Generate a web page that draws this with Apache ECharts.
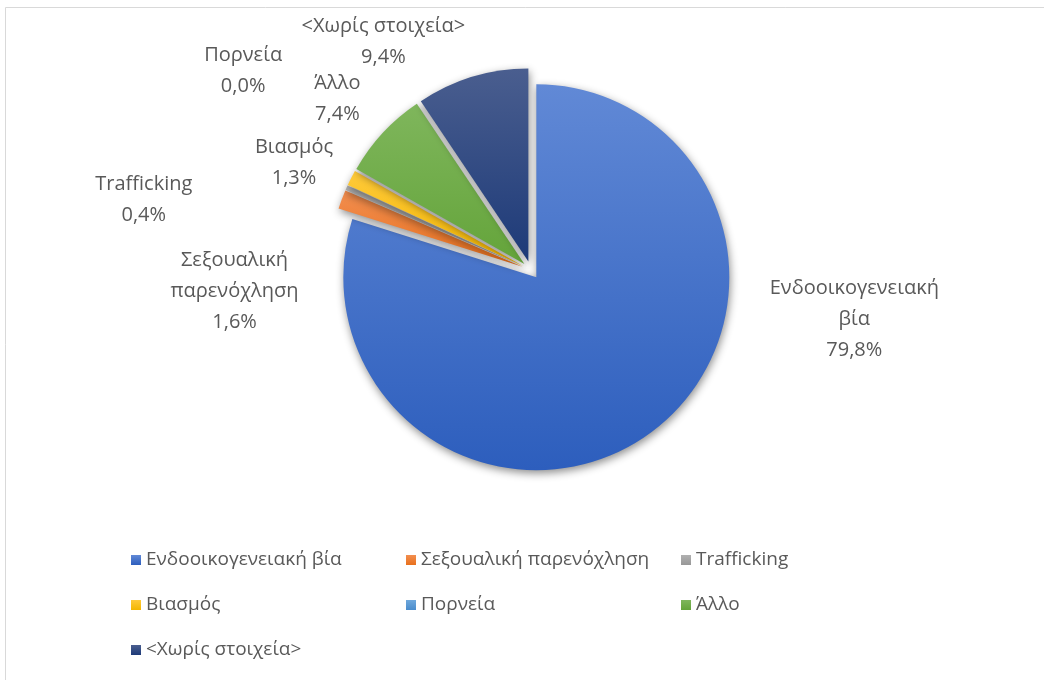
<!DOCTYPE html>
<html>
<head>
<meta charset="utf-8">
<script src="https://cdn.jsdelivr.net/npm/echarts@6/dist/echarts.min.js"></script>
<style>html,body{margin:0;padding:0;background:#fff}#c{width:1044px;height:680px}</style>
</head>
<body>
<div id="c"></div>
<script>
// ---- data ----
const categories = ['Ενδοοικογενειακή βία','Σεξουαλική παρενόχληση','Trafficking','Βιασμός','Πορνεία','Άλλο','<Χωρίς στοιχεία>'];
const labelNames = ['Ενδοοικογενειακή\nβία','Σεξουαλική\nπαρενόχληση','Trafficking','Βιασμός','Πορνεία','Άλλο','<Χωρίς στοιχεία>'];
const values = [79.8, 1.6, 0.4, 1.3, 0.0, 7.4, 9.4];

// ---- style ----
const grads = [
  ['#6189d6','#2d5ebd'],
  ['#f28e50','#e8701c'],
  ['#b0b0b0','#979797'],
  ['#ffca3a','#f3b600'],
  ['#6fa8dc','#4a8ccc'],
  ['#7fb65c','#64a43a'],
  ['#4a5e8f','#1d3a78']
];
const labelAnchors = [[849,312],[243,294],[152,203],[302,167],[251,75],[344,105],[386,50]];
const pieCenter = [531,270];

const chart = echarts.init(document.getElementById('c'));
const data = categories.map((n,i)=>({
  name:n, value:values[i], selected:true,
  itemStyle:{color:new echarts.graphic.LinearGradient(0,0,0,1,[{offset:0,color:grads[i][0]},{offset:1,color:grads[i][1]}])}
}));
chart.setOption({
  animation:false,
  graphic:[{type:'rect',shape:{x:5.5,y:7.5,width:1100,height:720},style:{fill:'none',stroke:'#d9d9d9',lineWidth:1},silent:true}],
  legend:{
    left:126, top:535, width:840, itemWidth:10, itemHeight:10, itemGap:5, icon:'rect',
    textStyle:{color:'#595959', fontSize:19, fontFamily:'Open Sans', width:255, lineHeight:40},
    selectedMode:false,
    data:categories
  },
  series:[{
    type:'pie',
    center:pieCenter,
    radius:193,
    startAngle:90,
    clockwise:true,
    avoidLabelOverlap:false,
    selectedMode:'multiple',
    selectedOffset:9,
    emphasis:{disabled:true},
    itemStyle:{shadowBlur:8, shadowColor:'rgba(0,0,0,0.45)', shadowOffsetY:3, shadowOffsetX:1},
    label:{
      show:true, position:'outside', color:'#595959', fontSize:20, fontFamily:'Open Sans', lineHeight:31,
      formatter:p=>labelNames[p.dataIndex]+'\n'+p.value.toFixed(1).replace('.',',')+'%'
    },
    labelLine:{show:false},
    labelLayout:p=>{
      const r=p.labelRect, a=labelAnchors[p.dataIndex];
      const rightSide = (r.x + r.width/2) > pieCenter[0];
      const x0 = rightSide ? r.x : r.x + r.width;
      return {align:'center', dx:a[0]-x0, dy:a[1]-(r.y+r.height/2)};
    },
    data:data
  }]
});
</script>
</body>
</html>
